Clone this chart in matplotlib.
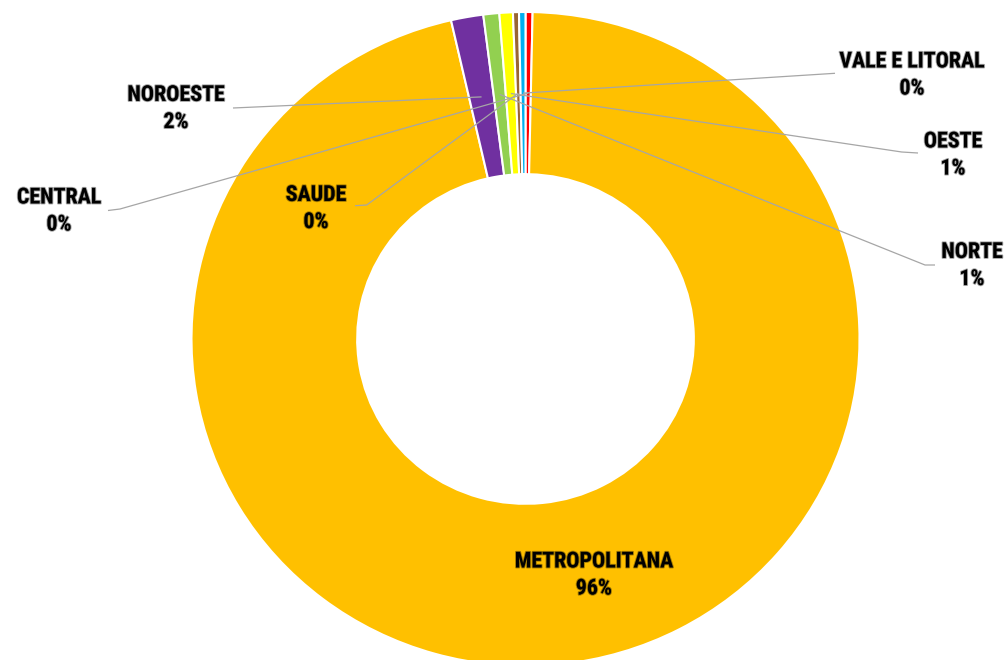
import matplotlib
matplotlib.use("Agg")
import matplotlib.pyplot as plt
import matplotlib.patheffects as pe
from matplotlib import font_manager
import numpy as np

# ---- data (Excel data order, first slice at 12 o'clock, clockwise) ----
regions = ["CENTRAL", "METROPOLITANA", "NOROESTE", "NORTE", "OESTE", "SAUDE", "VALE E LITORAL"]
shares = [0.34, 96.10, 1.56, 0.77, 0.65, 0.29, 0.31]
slice_colors = ["#FF0000", "#FFC000", "#7030A0", "#92D050", "#FFFF00", "#996633", "#00B0F0"]

# ---- font choice ----
available = {f.name for f in font_manager.fontManager.ttflist}
family = "DejaVu Sans"
for cand in ["Liberation Sans Narrow", "Roboto Condensed", "Open Sans Condensed", "Lato"]:
    if cand in available:
        family = cand
        break
stretch = "condensed" if family == "DejaVu Sans" else "normal"

W, H = 1007, 660
fig = plt.figure(figsize=(W / 100, H / 100), dpi=100)

# donut (slightly wider than tall, as in the reference)
cx, cy, rx, ry = 525.5, 339.0, 334.0, 327.0
ax_pie = fig.add_axes([(cx - rx) / W, (H - (cy + ry)) / H, 2 * rx / W, 2 * ry / H])
wedges, _ = ax_pie.pie(shares, colors=slice_colors, startangle=90, counterclock=False,
                       radius=1.0,
                       wedgeprops=dict(width=0.496, edgecolor="white", linewidth=1.5))
ax_pie.set_aspect("auto")
ax_pie.set_xlim(-1, 1)
ax_pie.set_ylim(-1, 1)
ax_pie.axis("off")

# overlay axes in pixel coordinates for labels and leader lines
ax = fig.add_axes([0, 0, 1, 1])
ax.set_xlim(0, W)
ax.set_ylim(H, 0)
ax.axis("off")
ax.set_zorder(3)
ax.patch.set_alpha(0)

layout = {
    "CENTRAL": dict(text=(59, 211), line=[(108, 210.5), (120, 209)]),
    "METROPOLITANA": dict(text=(594, 575), line=None),
    "NOROESTE": dict(text=(176, 108.5), line=[(233, 108)]),
    "NORTE": dict(text=(972, 265.5), line=[(935, 265), (925, 265)]),
    "OESTE": dict(text=(953, 155), line=[(918, 153), (901.7, 152)]),
    "SAUDE": dict(text=(316, 208.5), line=[(355, 205.7), (366.7, 205)]),
    "VALE E LITORAL": dict(text=(912, 75), line=[(835, 73.3)]),
}

total = sum(shares)
inv = ax.transData.inverted()
r_mid = 0.752
for name, val, w in zip(regions, shares, wedges):
    pct = f"{int(round(val / total * 100))}%"
    lay = layout[name]
    tx, ty = lay["text"]
    ax.text(tx, ty, f"{name}\n{pct}", ha="center", va="center", fontsize=15.8,
            fontweight="bold", family=family, fontstretch=stretch, color="black",
            linespacing=1.3,
            path_effects=[pe.withStroke(linewidth=1.4, foreground="black", alpha=0.35)])
    if lay["line"] is not None:
        th = np.deg2rad((w.theta1 + w.theta2) / 2)
        disp = ax_pie.transData.transform((r_mid * np.cos(th), r_mid * np.sin(th)))
        px, py = inv.transform(disp)
        pts = list(lay["line"]) + [(px, py)]
        xs, ys = zip(*pts)
        ax.plot(xs, ys, color="#A6A6A6", lw=0.9, solid_capstyle="butt")

fig.savefig("out.png", dpi=100)
